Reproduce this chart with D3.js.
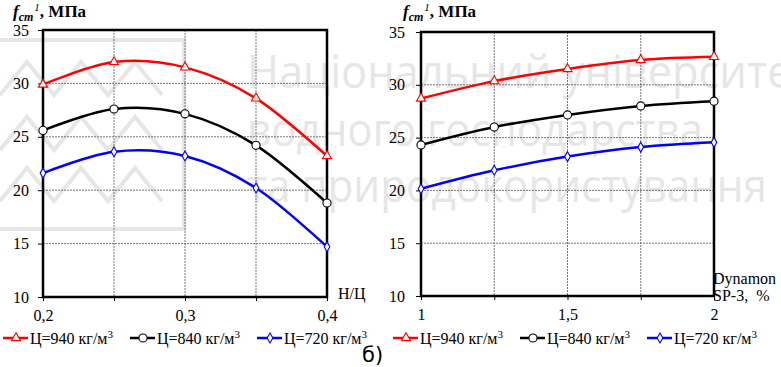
<!DOCTYPE html>
<html>
<head>
<meta charset="utf-8">
<script src="https://cdn.jsdelivr.net/npm/d3@7.9.0/dist/d3.min.js"></script>
<style>
  body { margin: 0; background: #fff; }
  svg { display: block; }
  text { font-family: 'Liberation Serif', 'Times New Roman', serif; }
</style>
</head>
<body>
<svg id="chart" width="781" height="367"></svg>
<script>
// values
const yTicks = [10, 15, 20, 25, 30, 35];

const ratioX = [0.2, 0.25, 0.3, 0.35, 0.4];
const ratioLabels = ['0,2', '', '0,3', '', '0,4'];
const ratio940 = [29.9, 32.0, 31.5, 28.6, 23.2];
const ratio840 = [25.6, 27.6, 27.15, 24.2, 18.8];
const ratio720 = [21.6, 23.6, 23.2, 20.2, 14.7];

const dosageX = [1, 1.25, 1.5, 1.75, 2];
const dosageLabels = ['1', '', '1,5', '', '2'];
const dosage940 = [28.7, 30.35, 31.5, 32.35, 32.65];
const dosage840 = [24.3, 26.0, 27.15, 28.0, 28.45];
const dosage720 = [20.15, 21.9, 23.2, 24.1, 24.55];

const seriesNames = ['Ц=940 кг/м', 'Ц=840 кг/м', 'Ц=720 кг/м'];
const seriesColors = ['#ff0000', '#000000', '#0000ff'];
const seriesSymbols = [d3.symbolTriangle, d3.symbolCircle, d3.symbolDiamond];
const seriesSizes = [36, 52, 28];

const watermarkLines = ['Національний університет', 'водного господарства', 'та природокористування'];

const svg = d3.select('#chart');
svg.append('rect').attr('width', 781).attr('height', 367).attr('fill', '#fff');

// watermark behind everything
const wm = svg.append('g').attr('fill', 'none').attr('stroke', '#e6e6e6').attr('stroke-width', 4);
wm.append('rect').attr('x', -10).attr('y', 40).attr('width', 194).attr('height', 189);
[62, 117, 168].forEach((top) => {
  const pts = [[0, top + 33], [27, top], [54, top + 33], [81, top], [108, top + 33], [135, top], [162, top + 33]];
  wm.append('path').attr('d', d3.line()(pts));
});
const wmText = svg.append('g').attr('fill', '#e6e6e6');
[[88, 565], [146, 456], [202, 520]].forEach(([base, len], i) => {
  wmText.append('text')
    .attr('x', 247).attr('y', base)
    .attr('textLength', len).attr('lengthAdjust', 'spacingAndGlyphs')
    .style('font-family', "'Open Sans', 'DejaVu Sans', sans-serif")
    .style('font-size', '45px')
    .text(watermarkLines[i]);
});

drawPanel({
  left: 43, right: 327, top: 30, bottom: 297,
  xs: ratioX, xLabels: ratioLabels,
  series: [ratio940, ratio840, ratio720],
  titleX: 13, labelGap: 9,
  axisName: ['Н/Ц'], axisNameX: 338, axisNameY: 299,
  legendX: [3, 130, 257]
});

drawPanel({
  left: 421, right: 714, top: 32, bottom: 296,
  xs: dosageX, xLabels: dosageLabels,
  series: [dosage940, dosage840, dosage720],
  titleX: 403, labelGap: 11,
  axisName: ['Dynamon', 'SP-3,  %'], axisNameX: 713, axisNameY: 284,
  legendX: [393, 520, 647]
});

svg.append('text')
  .attr('x', 362).attr('y', 362)
  .style('font-family', "'DejaVu Sans', sans-serif")
  .style('font-size', '21px')
  .text('б)');

function drawPanel(cfg) {
  const x = d3.scaleLinear().domain(d3.extent(cfg.xs)).range([cfg.left, cfg.right]);
  const y = d3.scaleLinear().domain([10, 35]).range([cfg.bottom, cfg.top]);
  const g = svg.append('g');

  // dotted grid
  g.append('g').selectAll('line').data(yTicks.slice(1, -1)).join('line')
    .attr('x1', cfg.left).attr('x2', cfg.right)
    .attr('y1', (d) => y(d)).attr('y2', (d) => y(d))
    .attr('stroke', '#555').attr('stroke-width', 0.8).attr('stroke-dasharray', '2,1');
  g.append('g').selectAll('line').data(cfg.xs.slice(1, -1)).join('line')
    .attr('x1', (d) => x(d)).attr('x2', (d) => x(d))
    .attr('y1', cfg.top).attr('y2', cfg.bottom)
    .attr('stroke', '#555').attr('stroke-width', 0.8).attr('stroke-dasharray', '2,1');

  const yAxis = g.append('g')
    .attr('transform', `translate(${cfg.left},0)`)
    .call(d3.axisLeft(y).tickValues(yTicks).tickSize(5).tickPadding(cfg.labelGap));
  const xAxis = g.append('g')
    .attr('transform', `translate(0,${cfg.bottom})`)
    .call(d3.axisBottom(x).tickValues(cfg.xs).tickSize(4).tickPadding(9)
      .tickFormat((d, i) => cfg.xLabels[i]));
  [yAxis, xAxis].forEach((a) => {
    a.select('.domain').remove();
    a.selectAll('text').attr('fill', '#000').style('font-size', '16px')
      .style('font-family', "'Liberation Serif', 'Times New Roman', serif");
    a.selectAll('line').attr('stroke', '#000');
  });

  // frame
  g.append('rect')
    .attr('x', cfg.left).attr('y', cfg.top)
    .attr('width', cfg.right - cfg.left).attr('height', cfg.bottom - cfg.top)
    .attr('fill', 'none').attr('stroke', '#000').attr('stroke-width', 2.5);

  const line = d3.line()
    .x((d, i) => x(cfg.xs[i]))
    .y((d) => y(d))
    .curve(d3.curveCardinal.tension(0));

  cfg.series.forEach((values, s) => {
    g.append('path')
      .attr('d', line(values))
      .attr('fill', 'none')
      .attr('stroke', seriesColors[s])
      .attr('stroke-width', 2.5);
    g.append('g').selectAll('path').data(values).join('path')
      .attr('transform', (d, i) => `translate(${x(cfg.xs[i])},${y(d)})`)
      .attr('d', d3.symbol(seriesSymbols[s], seriesSizes[s]))
      .attr('fill', '#fff')
      .attr('stroke', seriesColors[s])
      .attr('stroke-width', 1.1);
  });

  // title f_cm^1, МПа
  const title = g.append('text')
    .attr('x', cfg.titleX).attr('y', 17)
    .style('font-size', '17px').style('font-weight', 'bold');
  title.append('tspan').style('font-style', 'italic').text('f');
  title.append('tspan').style('font-style', 'italic').style('font-size', '12px').attr('dy', 4).text('cm');
  title.append('tspan').style('font-style', 'italic').style('font-size', '11px').style('font-weight', 'normal')
    .attr('dx', 1).attr('dy', -10).text('1');
  title.append('tspan').attr('dy', 6).text(', МПа');

  cfg.axisName.forEach((t, i) => {
    g.append('text')
      .attr('x', cfg.axisNameX).attr('y', cfg.axisNameY + i * 17)
      .style('font-size', '16px').style('white-space', 'pre')
      .text(t);
  });

  // legend
  cfg.legendX.forEach((lx, s) => {
    const ly = 338;
    g.append('line')
      .attr('x1', lx).attr('x2', lx + 25).attr('y1', ly).attr('y2', ly)
      .attr('stroke', seriesColors[s]).attr('stroke-width', 2.5);
    g.append('path')
      .attr('transform', `translate(${lx + 13},${ly})`)
      .attr('d', d3.symbol(seriesSymbols[s], seriesSizes[s]))
      .attr('fill', '#fff').attr('stroke', seriesColors[s]).attr('stroke-width', 1.1);
    const t = g.append('text')
      .attr('x', lx + 27).attr('y', ly + 6)
      .style('font-size', '16px');
    t.append('tspan').text(seriesNames[s]);
    t.append('tspan').attr('dy', -6).style('font-size', '11px').text('3');
  });
}
</script>
</body>
</html>
